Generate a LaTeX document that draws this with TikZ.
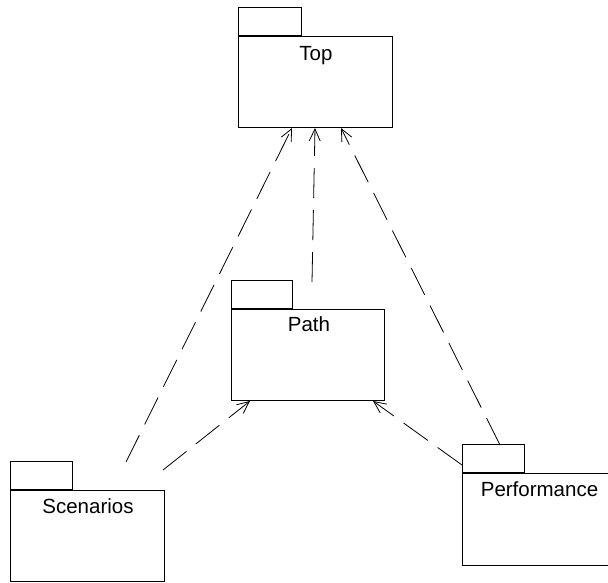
\documentclass[tikz,border=0pt]{standalone}
\usepackage{fontspec}
\setmainfont{Liberation Sans}
\usetikzlibrary{arrows.meta,calc}
\begin{document}
\begin{tikzpicture}[x=1pt,y=-1pt,
  pkgbody/.style={draw, rectangle, line width=1.1pt, inner sep=0pt, anchor=north west, minimum width=154pt, minimum height=91pt},
  pkgtab/.style={draw, rectangle, line width=1.1pt, inner sep=0pt, anchor=south west, minimum width=63pt, minimum height=28pt},
  pkglabel/.style={anchor=base, font=\fontsize{20.5}{23}\selectfont, inner sep=0pt},
  dep/.style={draw, line width=0.8pt, dash pattern=on 30pt off 12pt, -{Straight Barb[length=12pt,width=11pt,line width=0.8pt]}}]
\useasboundingbox (0,0) rectangle (608,582);
\clip (0,0) rectangle (608,582);
% Top
\node[pkgbody] (topb) at (238,36) {};
\node[pkgtab] (topt) at (238,36) {};
\node[pkglabel] (topl) at (316,60) {Top};
% Path
\node[pkgbody, minimum width=153pt] (pathb) at (231,309) {};
\node[pkgtab, minimum width=61pt] (patht) at (231,309) {};
\node[pkglabel] (pathl) at (309,331) {Path};
% Scenarios
\node[pkgbody] (scenb) at (10,490) {};
\node[pkgtab, minimum width=62pt] (scent) at (10,490) {};
\node[pkglabel] (scenl) at (88,513) {Scenarios};
% Performance
\node[pkgbody, minimum width=155pt, minimum height=92pt] (perfb) at (462,473) {};
\node[pkgtab, minimum width=62pt] (perft) at (462,473) {};
\node[pkglabel] (perfl) at (539.5,496) {Performance};
% connector ends
\coordinate (s1) at (126,462);
\coordinate (s2) at (163,470);
\coordinate (t1) at (292,128);
\coordinate (t2) at (315,128);
\coordinate (t3) at (341,128);
\coordinate (p0) at (312,282);
\coordinate (p1) at (250,401);
\coordinate (p2) at (373,401);
\coordinate (f1) at (500,445);
\coordinate (f2) at (462,465);
\draw[dep] (s1) -- (t1);
\draw[dep] (p0) -- (t2);
\draw[dep] (f1) -- (t3);
\draw[dep] (s2) -- (p1);
\draw[dep] (f2) -- (p2);
\end{tikzpicture}
\end{document}
